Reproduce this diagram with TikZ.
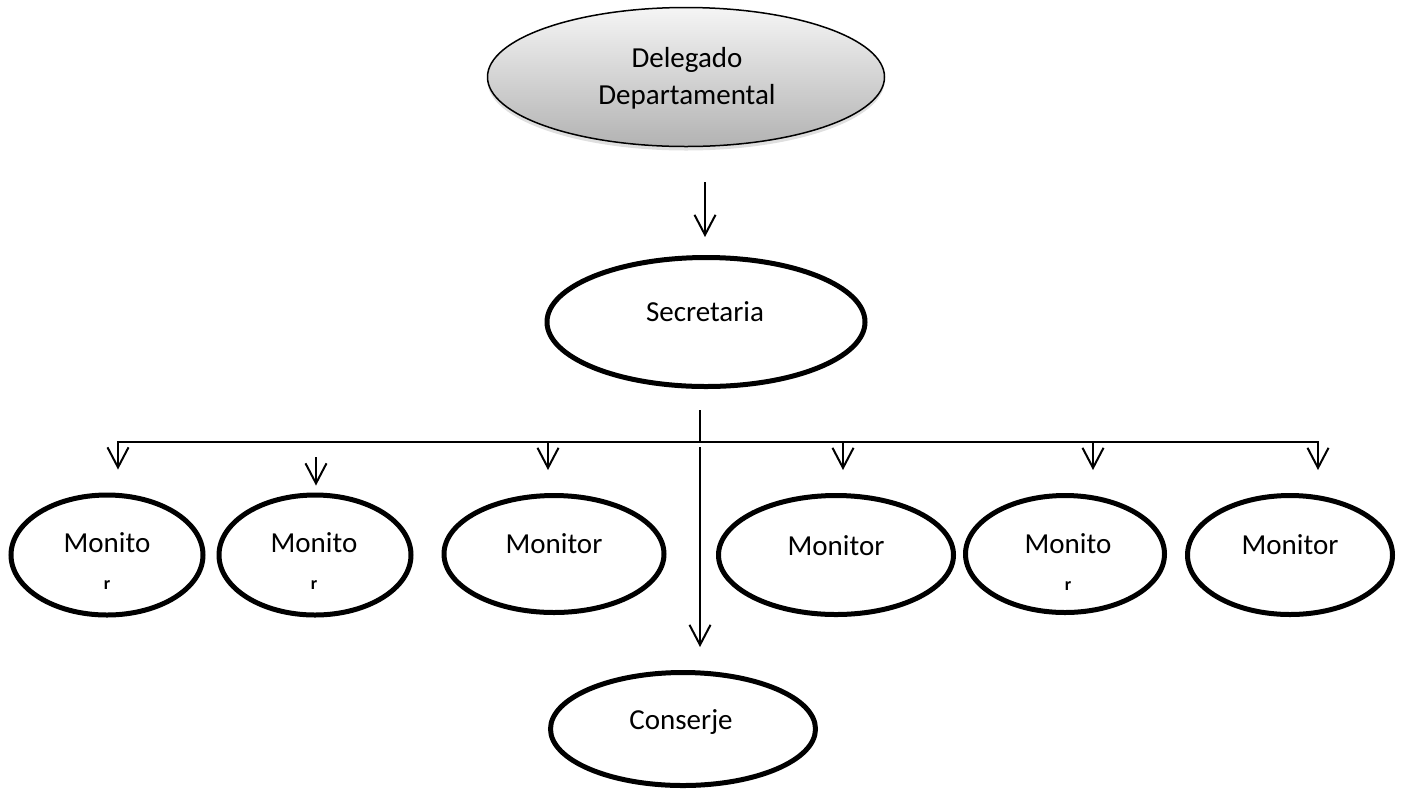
\documentclass[tikz,border=0pt]{standalone}
\usepackage{fontspec}
\setmainfont{Carlito}
\usetikzlibrary{shapes.geometric,shadows,arrows.meta}
\newcommand{\monr}{{\bfseries\fontsize{9}{11}\selectfont r}}

\begin{document}
\begin{tikzpicture}[x=0.5pt, y=-0.5pt,
        unit/.style={draw, ellipse, line width=2.5pt, inner sep=0pt},
        txt/.style={align=center, inner sep=0pt, font=\fontsize{14.5}{18.5}\selectfont},
        arr/.style={-{Straight Barb[length=10pt,width=10.5pt]}, line width=1pt, shorten >=11.5pt}]
        \useasboundingbox (0,0) rectangle (1403,794);

        \draw (686,77) node[draw, ellipse, line width=0.75pt, top color=black!4, bottom color=black!30,
            drop shadow={shadow xshift=0pt, shadow yshift=-2pt, opacity=0.25},
            minimum width=198.5pt, minimum height=69.5pt] (del) {};
        \draw (706,322) node[unit, minimum width=159pt, minimum height=64.5pt] (sec) {};
        \draw (107,555) node[unit, minimum width=96pt, minimum height=60pt] (m1) {};
        \draw (315,555) node[unit, minimum width=96pt, minimum height=60pt] (m2) {};
        \draw (554,554) node[unit, minimum width=110pt, minimum height=58.5pt] (m3) {};
        \draw (836,555) node[unit, minimum width=117.5pt, minimum height=59.5pt] (m4) {};
        \draw (1065,554) node[unit, minimum width=99.5pt, minimum height=58.5pt] (m5) {};
        \draw (1290,555) node[unit, minimum width=102.5pt, minimum height=59.5pt] (m6) {};
        \draw (683,729) node[unit, minimum width=132.5pt, minimum height=56.5pt] (con) {};

        \draw (687,78) node[txt] (delT) {Delegado\\Departamental};
        \draw (705,312) node[txt] (secT) {Secretaria};
        \draw (107,561) node[txt] (m1T) {Monito\\\monr};
        \draw (314,561) node[txt] (m2T) {Monito\\\monr};
        \draw (554,544) node[txt] (m3T) {Monitor};
        \draw (836,546) node[txt] (m4T) {Monitor};
        \draw (1068,562) node[txt] (m5T) {Monito\\\monr};
        \draw (1290,545) node[txt] (m6T) {Monitor};
        \draw (681,722) node[txt] (conT) {Conserje};

        \coordinate (a0) at (705,182);
        \coordinate (stem) at (700,410);
        \coordinate (bar) at (700,442);
        \coordinate (barL) at (118,442);
        \coordinate (barR) at (1318,442);
        \coordinate (t2) at (316,457);
        \coordinate (t3) at (548,442);
        \coordinate (t4) at (843,442);
        \coordinate (t5) at (1093,442);
        \coordinate (cs) at (700,447);

        \draw[arr, shorten >=9pt] (a0) -- (a0 |- sec.north);
        \draw[line width=0.75pt] (stem) -- (bar);
        \draw[line width=1pt, line cap=rect] (barL) -- (barR);
        \draw[arr] (barL) -- (barL |- m1.north);
        \draw[arr, shorten >=3.5pt] (t2) -- (t2 |- m2.north);
        \draw[arr] (t3) -- (t3 |- m3.north);
        \draw[arr] (t4) -- (t4 |- m4.north);
        \draw[arr] (t5) -- (t5 |- m5.north);
        \draw[arr] (barR) -- (barR |- m6.north);
        \draw[arr] (cs) -- (cs |- con.north);
    \end{tikzpicture}
\end{document}
